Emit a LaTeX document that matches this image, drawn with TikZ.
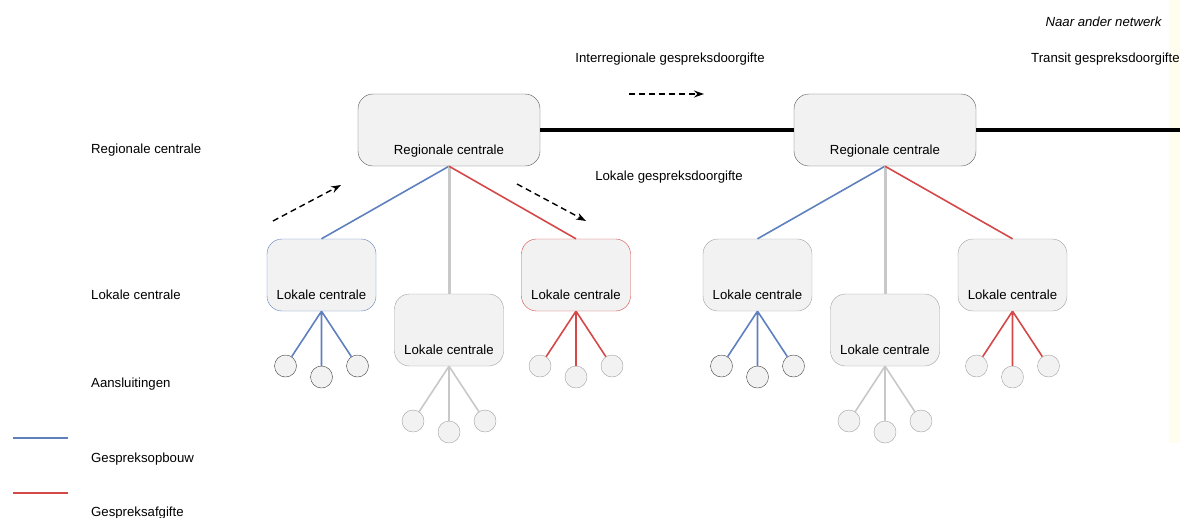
\documentclass[tikz,border=0pt]{standalone}
\usepackage{fontspec}
\setmainfont{Liberation Sans}
\usetikzlibrary{positioning, arrows.meta}

\definecolor{opbouwblauw}{RGB}{95,128,190}
\definecolor{afgifterood}{RGB}{212,72,72}
\definecolor{vulgrijs}{RGB}{242,242,242}
\definecolor{randgrijs}{RGB}{160,160,160}
\definecolor{lijngrijs}{RGB}{200,200,200}
\definecolor{geelband}{RGB}{255,253,238}

\tikzset{
    tekst/.style={font=\fontsize{13.2}{15}\selectfont, inner sep=0pt},
    centrale/.style={tekst, draw=randgrijs, fill=vulgrijs, rounded corners=15pt,
        minimum width=109pt, minimum height=72pt, text height=49pt, text depth=0pt},
    regio/.style={centrale, draw=black!65, minimum width=182pt},
    aansl/.style={circle, draw=randgrijs, fill=vulgrijs, minimum size=22pt, inner sep=0pt},
    richting/.style={-{Stealth[length=10pt, width=7pt]}, line width=1.4pt, dash pattern=on 6pt off 4pt},
}

\begin{document}
\begin{tikzpicture}[x=1pt, y=-1pt]
        \useasboundingbox (0,0) rectangle (1180,517);
        \fill[geelband] (1169,0) rectangle (1180,443);

        \node[regio] (R1) at (449,130) {Regionale centrale};
        \node[regio] (R2) at (885,130) {Regionale centrale};

        \node[centrale, draw=opbouwblauw] (L1) at (321.5,275) {Lokale centrale};
        \node[centrale] (L2) at (449,330) {Lokale centrale};
        \node[centrale, draw=afgifterood] (L3) at (576,275) {Lokale centrale};
        \node[centrale] (L4) at (757.5,275) {Lokale centrale};
        \node[centrale] (L5) at (885,330) {Lokale centrale};
        \node[centrale] (L6) at (1012.5,275) {Lokale centrale};

        \foreach \l/\kl/\rd in {L1/opbouwblauw/black!75, L2/lijngrijs/randgrijs,
                L3/afgifterood/randgrijs, L4/opbouwblauw/black!75,
                L5/lijngrijs/randgrijs, L6/afgifterood/randgrijs} {
            \node[aansl, draw=\rd] (\l a) at ([shift={(-36,91)}]\l) {};
            \node[aansl, draw=\rd] (\l b) at ([shift={(0,102)}]\l) {};
            \node[aansl, draw=\rd] (\l c) at ([shift={(36,91)}]\l) {};
            \draw[\kl, line width=1.6pt] (\l.south) -- (\l a)
                                         (\l.south) -- (\l b)
                                         (\l.south) -- (\l c);
        }

        \coordinate (uit) at (1180,130);
        \draw[line width=4pt] (R1.east) -- (R2.west)
                              (R2.east) -- (uit);

        \path (R1.south) edge[opbouwblauw, line width=1.6pt] (L1.north)
              (R1.south) edge[lijngrijs, line width=3pt] (L2.north)
              (R1.south) edge[afgifterood, line width=1.6pt] (L3.north)
              (R2.south) edge[opbouwblauw, line width=1.6pt] (L4.north)
              (R2.south) edge[lijngrijs, line width=3pt] (L5.north)
              (R2.south) edge[afgifterood, line width=1.6pt] (L6.north);

        \coordinate (op1) at (273,221);
        \coordinate (op2) at (341,185);
        \coordinate (af1) at (517,184);
        \coordinate (af2) at (586,221);
        \coordinate (ir1) at (629,94);
        \coordinate (ir2) at (704,94);
        \draw[richting] (op1) -- (op2);
        \draw[richting] (af1) -- (af2);
        \draw[richting] (ir1) -- (ir2);

        \node[tekst] (interregio) at (670,59) {Interregionale gespreksdoorgifte};
        \node[tekst] (lokaal) at (669,177) {Lokale gespreksdoorgifte};
        \node[tekst, font=\fontsize{13.2}{15}\selectfont\itshape] (ander) at (1103.5,22) {Naar ander netwerk};
        \node[tekst, anchor=west] (transit) at (1031,59) {Transit gespreksdoorgifte};

        \node[tekst, anchor=west] (kopR) at (91,150) {Regionale centrale};
        \node[tekst, anchor=west] (kopL) at (91,295) {Lokale centrale};
        \node[tekst, anchor=west] (kopA) at (91,384) {Aansluitingen};

        \coordinate (bl1) at (13,438);
        \coordinate (bl2) at (68,438);
        \coordinate (rd1) at (13,493);
        \coordinate (rd2) at (68,493);
        \draw[opbouwblauw, line width=1.6pt] (bl1) -- (bl2);
        \draw[afgifterood, line width=1.6pt] (rd1) -- (rd2);
        \node[tekst, anchor=west] (opbouw) at (91,459) {Gespreksopbouw};
        \node[tekst, anchor=west] (afgifte) at (91,513) {Gespreksafgifte};
    \end{tikzpicture}
\end{document}
